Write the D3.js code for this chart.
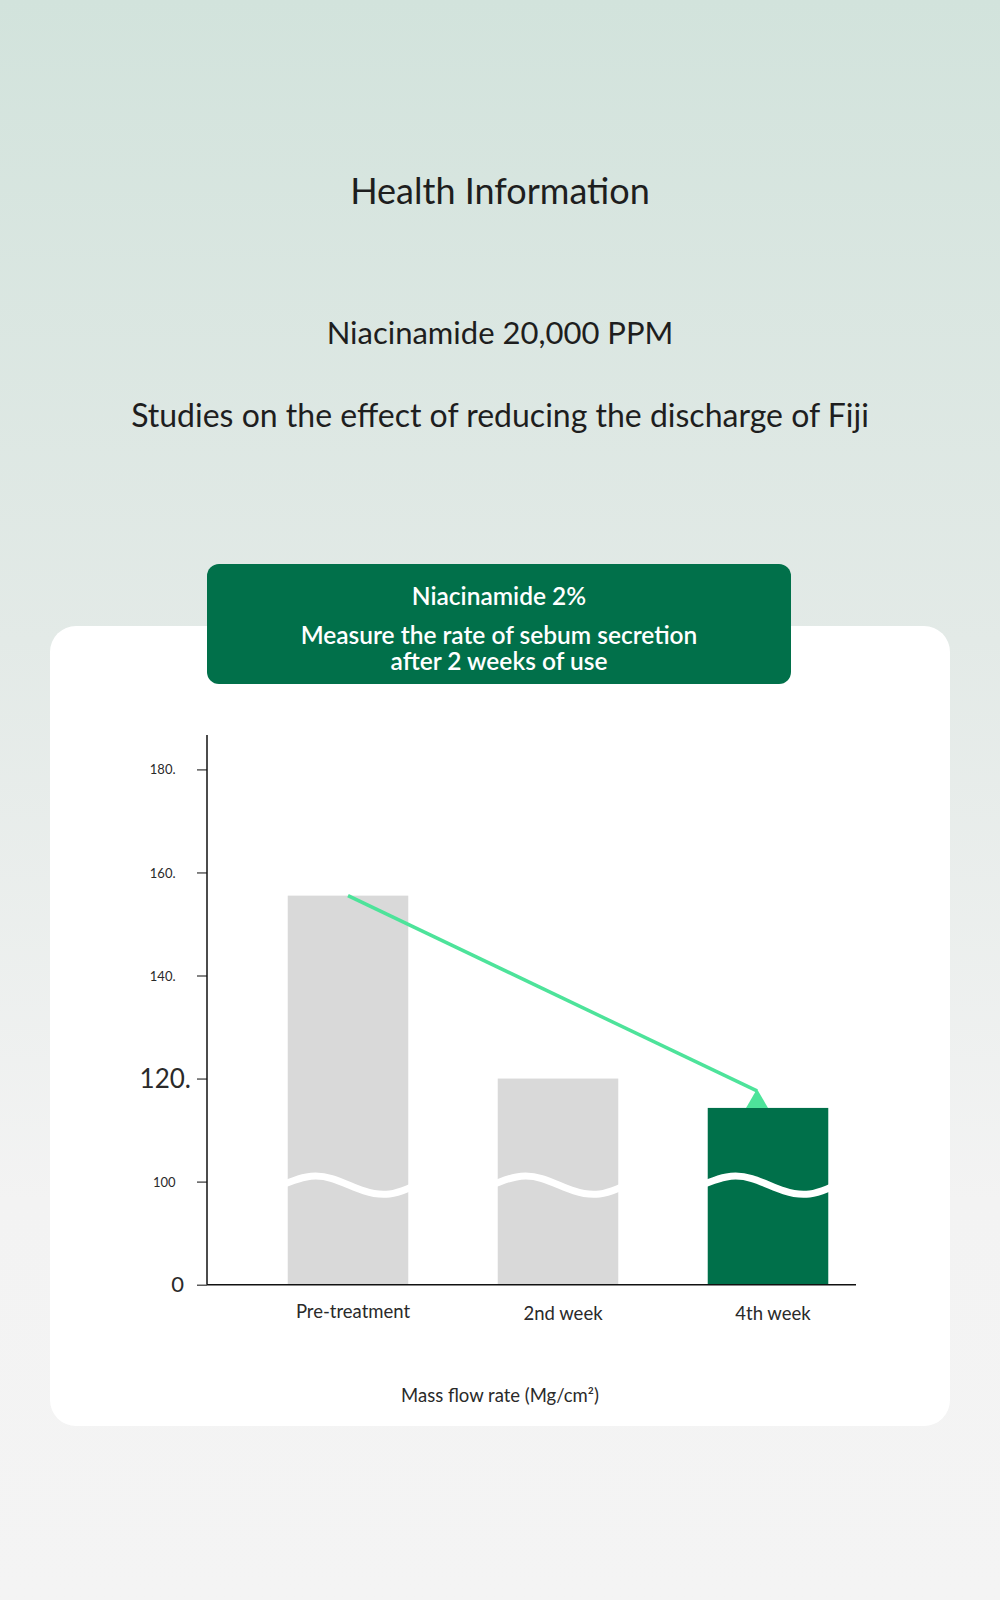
<!DOCTYPE html>
<html lang="en">
<head>
  <meta charset="UTF-8" />
  <title>Health Information - Niacinamide</title>
  <script src="https://d3js.org/d3.v7.min.js"></script>
  <style>
    body { margin: 0; padding: 0; }
    svg { display: block; font-family: Lato, "Noto Sans", sans-serif; }
  </style>
</head>
<body>
  <div id="chart"></div>
  <script>
    // ---- data ----
    const categories = ["Pre-treatment", "2nd week", "4th week"];
    const values = [155.5, 120, 114.3];
    const barColors = ["#d9d9d9", "#d9d9d9", "#00704a"];
    const tickValues = [0, 100, 120, 140, 160, 180];
    const tickLabels = ["0", "100", "120.", "140.", "160.", "180."];

    const width = 1000, height = 1600;

    const svg = d3.select("#chart").append("svg")
      .attr("width", width)
      .attr("height", height);

    // background gradient
    const defs = svg.append("defs");
    const bg = defs.append("linearGradient")
      .attr("id", "bg").attr("x1", 0).attr("y1", 0).attr("x2", 0).attr("y2", 1);
    bg.append("stop").attr("offset", "0%").attr("stop-color", "#d2e3dc");
    bg.append("stop").attr("offset", "40%").attr("stop-color", "#e3eae7");
    bg.append("stop").attr("offset", "75%").attr("stop-color", "#f3f3f3");
    bg.append("stop").attr("offset", "100%").attr("stop-color", "#f4f4f4");

    svg.append("rect").attr("width", width).attr("height", height).attr("fill", "url(#bg)");

    // headings
    const heads = [
      { text: "Health Information", y: 190, size: 36 },
      { text: "Niacinamide 20,000 PPM", y: 332, size: 31 },
      { text: "Studies on the effect of reducing the discharge of Fiji", y: 414, size: 32 }
    ];
    svg.selectAll(".head").data(heads).enter().append("text")
      .attr("class", "head")
      .attr("x", 500).attr("y", d => d.y)
      .attr("text-anchor", "middle").attr("dominant-baseline", "central")
      .attr("font-size", d => d.size)
      .attr("fill", "#1e1e1e")
      .text(d => d.text);

    // white card
    svg.append("rect")
      .attr("x", 50).attr("y", 626).attr("width", 900).attr("height", 800)
      .attr("rx", 26).attr("fill", "#ffffff");

    // green header box
    svg.append("rect")
      .attr("x", 207).attr("y", 564).attr("width", 584).attr("height", 120)
      .attr("rx", 12).attr("fill", "#01704a");
    const boxLines = [
      { text: "Niacinamide 2%", y: 595 },
      { text: "Measure the rate of sebum secretion", y: 634 },
      { text: "after 2 weeks of use", y: 660 }
    ];
    svg.selectAll(".boxline").data(boxLines).enter().append("text")
      .attr("class", "boxline")
      .attr("x", 499).attr("y", d => d.y)
      .attr("text-anchor", "middle").attr("dominant-baseline", "central")
      .attr("font-size", 24.5).attr("font-weight", 600)
      .attr("fill", "#ffffff")
      .text(d => d.text);

    // ---- scales ----
    const x = d3.scaleBand()
      .domain(categories)
      .range([243, 873])
      .paddingInner(0.426)
      .paddingOuter(0.213);

    // broken axis: 0..100 compressed, 100..180 expanded
    const y = d3.scaleLinear()
      .domain([0, 100, 180])
      .range([1284.7, 1181.6, 769.4]);

    const axisX = 207;

    // bars
    const bars = svg.selectAll(".bar").data(values).enter().append("g")
      .attr("class", "bar");
    bars.append("rect")
      .attr("x", (d, i) => x(categories[i]))
      .attr("y", d => y(d))
      .attr("width", x.bandwidth())
      .attr("height", d => y(0) - y(d))
      .attr("fill", (d, i) => barColors[i]);

    // break wave across each bar
    const bw = x.bandwidth();
    const wave = d3.line().curve(d3.curveBasis);
    bars.append("path")
      .attr("d", (d, i) => {
        const x0 = x(categories[i]);
        const yb = y(100);
        return wave([
          [x0 - 2, yb + 2], [x0 + bw * 0.15, yb - 6], [x0 + bw * 0.35, yb - 6],
          [x0 + bw * 0.65, yb + 12], [x0 + bw * 0.85, yb + 14], [x0 + bw + 2, yb + 6]
        ]);
      })
      .attr("fill", "none")
      .attr("stroke", "#ffffff")
      .attr("stroke-width", 7);

    // y axis
    const yAxis = d3.axisLeft(y)
      .tickValues(tickValues)
      .tickFormat((d, i) => tickLabels[i])
      .tickSize(10)
      .tickSizeOuter(0);
    const yg = svg.append("g").attr("transform", `translate(${axisX},0)`).call(yAxis);
    yg.select(".domain").remove();
    yg.selectAll(".tick line").attr("stroke", "#333").attr("stroke-width", 1.2);
    yg.selectAll(".tick text")
      .attr("fill", "#2a2a2a")
      .attr("font-family", "Lato, sans-serif")
      .attr("font-size", d => d === 120 ? 26 : d === 0 ? 22 : 13)
      .attr("x", d => d === 120 ? -16 : d === 0 ? -23 : -31.5)
      .attr("dy", d => d === 0 ? "0.3em" : "0.35em");

    svg.append("line")
      .attr("x1", axisX).attr("x2", axisX)
      .attr("y1", 735).attr("y2", y(0))
      .attr("stroke", "#111").attr("stroke-width", 1.5);
    svg.append("line")
      .attr("x1", axisX).attr("x2", 856)
      .attr("y1", y(0)).attr("y2", y(0))
      .attr("stroke", "#111").attr("stroke-width", 1.5);

    // category labels
    svg.selectAll(".cat").data(categories).enter().append("text")
      .attr("class", "cat")
      .attr("x", d => x(d) + bw / 2 + 5)
      .attr("y", (d, i) => i === 0 ? 1311 : 1313)
      .attr("text-anchor", "middle").attr("dominant-baseline", "central")
      .attr("font-size", 18.5)
      .attr("fill", "#2a2a2a")
      .text(d => d);

    svg.append("text")
      .attr("x", 500).attr("y", 1395)
      .attr("text-anchor", "middle").attr("dominant-baseline", "central")
      .attr("font-size", 18.5).attr("fill", "#2a2a2a")
      .text("Mass flow rate (Mg/cm²)");

    // trend arrow: from top of first bar down to top of last bar
    const sx = x(categories[0]) + bw / 2, sy = y(values[0]);
    const tx = x(categories[2]) + bw / 2 - 11, ty = y(values[2]) - 19;
    svg.append("line")
      .attr("x1", sx).attr("y1", sy)
      .attr("x2", tx).attr("y2", ty + 2)
      .attr("stroke", "#4de39a")
      .attr("stroke-width", 3.5);
    svg.append("path")
      .attr("d", d3.line()([
        [tx, ty], [tx + 11, y(values[2])], [tx - 11, y(values[2])]
      ]) + "Z")
      .attr("fill", "#4de39a");
  </script>
</body>
</html>
